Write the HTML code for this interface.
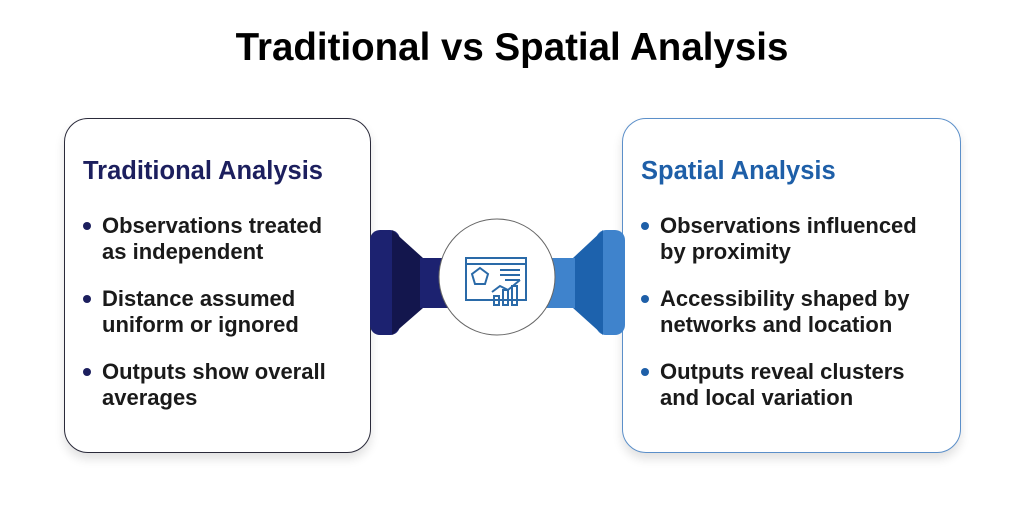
<!DOCTYPE html>
<html><head><style>
body{margin:0;width:1024px;height:520px;background:#fff;font-family:"Liberation Sans",sans-serif;position:relative;overflow:hidden}
.t{position:absolute;top:26px;left:0;width:1024px;text-align:center;font-size:38.5px;font-weight:bold;color:#000}
.box{position:absolute;top:118px;height:333px;background:#fff;border-radius:24px;box-shadow:0 6px 10px rgba(0,0,0,0.12)}
.h{position:absolute;left:18px;top:38px;font-size:25.5px;font-weight:bold;white-space:nowrap}
ul{position:absolute;left:18px;top:94px;margin:0;padding:0;list-style:none}
li{position:relative;padding-left:19px;font-size:22px;font-weight:bold;line-height:25.5px;color:#1a1a1a;margin-bottom:22px;white-space:nowrap}
li:before{content:"";position:absolute;left:0;top:9px;width:8px;height:8px;border-radius:50%}
.a li:before{background:#1c1f5e}.b li:before{background:#1e5fa8}
</style></head><body>
<div class="t">Traditional vs Spatial Analysis</div>
<div class="box a" style="left:64px;width:305px;border:1.5px solid #2a2a3a">
<div class="h" style="color:#1c1f5e">Traditional Analysis</div>
<ul><li>Observations treated<br>as independent</li><li>Distance assumed<br>uniform or ignored</li><li>Outputs show overall<br>averages</li></ul>
</div>
<div class="box b" style="left:622px;width:337px;border:1.5px solid #5b8fc9">
<div class="h" style="color:#1e5fa8">Spatial Analysis</div>
<ul><li>Observations influenced<br>by proximity</li><li>Accessibility shaped by<br>networks and location</li><li>Outputs reveal clusters<br>and local variation</li></ul>
</div>
<svg style="position:absolute;left:0;top:0" width="1024" height="520">
<rect x="370" y="230" width="30" height="105" rx="10" fill="#1c2270"/>
<polygon points="392,230 423,258 423,308 392,335" fill="#13164d"/>
<rect x="420" y="258" width="30" height="50" fill="#1c2270"/>
<rect x="596" y="230" width="29" height="105" rx="10" fill="#3f83cc"/>
<polygon points="603,230 573,258 573,308 603,335" fill="#1d62ad"/>
<rect x="545" y="258" width="30" height="50" fill="#3f83cc"/>
<circle cx="497" cy="277" r="58" fill="#fff" stroke="#666" stroke-width="1"/>
<g fill="none" stroke="#2a6aa8" stroke-width="2">
<rect x="466" y="258" width="60" height="42"/>
<line x1="466" y1="264" x2="526" y2="264"/>
<polygon points="480,268 488,274 485,284 475,284 472,274"/>
<line x1="500" y1="270" x2="520" y2="270"/><line x1="500" y1="275" x2="520" y2="275"/><line x1="505" y1="280" x2="520" y2="280"/>
<polyline points="492,292 500,286 508,290 520,280"/>
<rect x="494" y="296" width="5" height="9"/><rect x="503" y="290" width="5" height="15"/><rect x="512" y="286" width="5" height="19"/>
</g>
</svg>
</body></html>
